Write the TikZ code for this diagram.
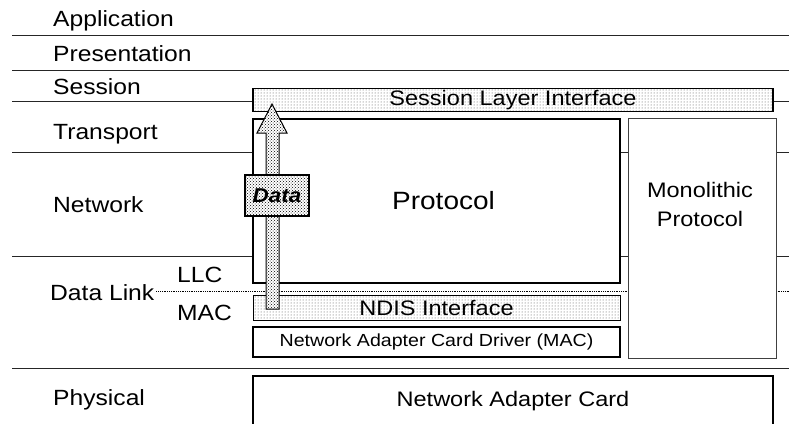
\documentclass[tikz,border=0pt]{standalone}
\usepackage{fontspec}
\setmainfont{Liberation Sans}[FakeStretch=1.12]
\usetikzlibrary{patterns}

\begin{document}
\begin{tikzpicture}
	[x=1pt, y=-1pt,
	every node/.style = {inner sep=0pt, font=\fontsize{21}{25}\selectfont},
	layername/.style = {anchor=base west, font=\fontsize{22}{26}\selectfont},
	sepline/.style = {draw=black!85, line width=0.9pt},
	box/.style = {draw, fill=white, line width=1.6pt},
	thinbox/.style = {draw=black!75, fill=white, line width=0.8pt},
	dotbox/.style = {draw, line width=1.6pt, preaction={fill=white},
		pattern=dots, pattern color=black!70},
	databox/.style = {draw, line width=1.2pt, preaction={fill=white},
		pattern=crosshatch dots, pattern color=black}]
	\useasboundingbox (0,0) rectangle (789,423);
	% OSI layers
	\foreach \y in {35,70,101,152,256,368}
		\draw[sepline] (12,\y) -- (789,\y);
	\node[layername] (app) at (53,27) {Application};
	\node[layername] (pres) at (53,61) {Presentation};
	\node[layername] (sess) at (53,94) {Session};
	\node[layername] (trans) at (53,139) {Transport};
	\node[layername] (net) at (53,212) {Network};
	\node[layername] (dl) at (50,300) {Data Link};
	\node[layername] (llc) at (177,282) {LLC};
	\node[layername] (mac) at (177,320) {MAC};
	\node[layername] (phys) at (53,405) {Physical};
	\draw[densely dotted, line width=0.8pt] ([xshift=2pt]dl.east |- 0,291) -- (789,291);
	% boxes
	\node[dotbox, minimum width=520, minimum height=23] (sli) at (513,100) {Session Layer Interface};
	\node[box, minimum width=367, minimum height=164, font=\fontsize{25}{30}\selectfont] (proto) at (436.5,201) {\hspace*{14pt}Protocol};
	\node[thinbox, minimum width=148, minimum height=240] (mono) at (702,238) {};
	\node[align=center, font=\fontsize{21}{29}\selectfont] (monotext) at (700,204) {Monolithic\\Protocol};
	\node[dotbox, line width=0.8pt, minimum width=367, minimum height=25] (ndis) at (436.5,307.5) {NDIS Interface};
	\node[box, minimum width=367, minimum height=30, font=\fontsize{17.5}{20}\selectfont] (drv) at (436.5,342) {Network Adapter Card Driver (MAC)};
	\node[box, minimum width=520, minimum height=50] (nac) at (513,401) {Network Adapter Card};
	% data going up
	\draw[databox, line width=1pt] (266,309) -- (266,133) -- (257,133) -- (272,104)
		-- (287,133) -- (279,133) -- (279,309) -- cycle;
	\node[databox, minimum width=64, minimum height=41, font=\fontsize{20}{24}\bfseries\itshape] (data) at (277,195.5) {Data};
\end{tikzpicture}
\end{document}
